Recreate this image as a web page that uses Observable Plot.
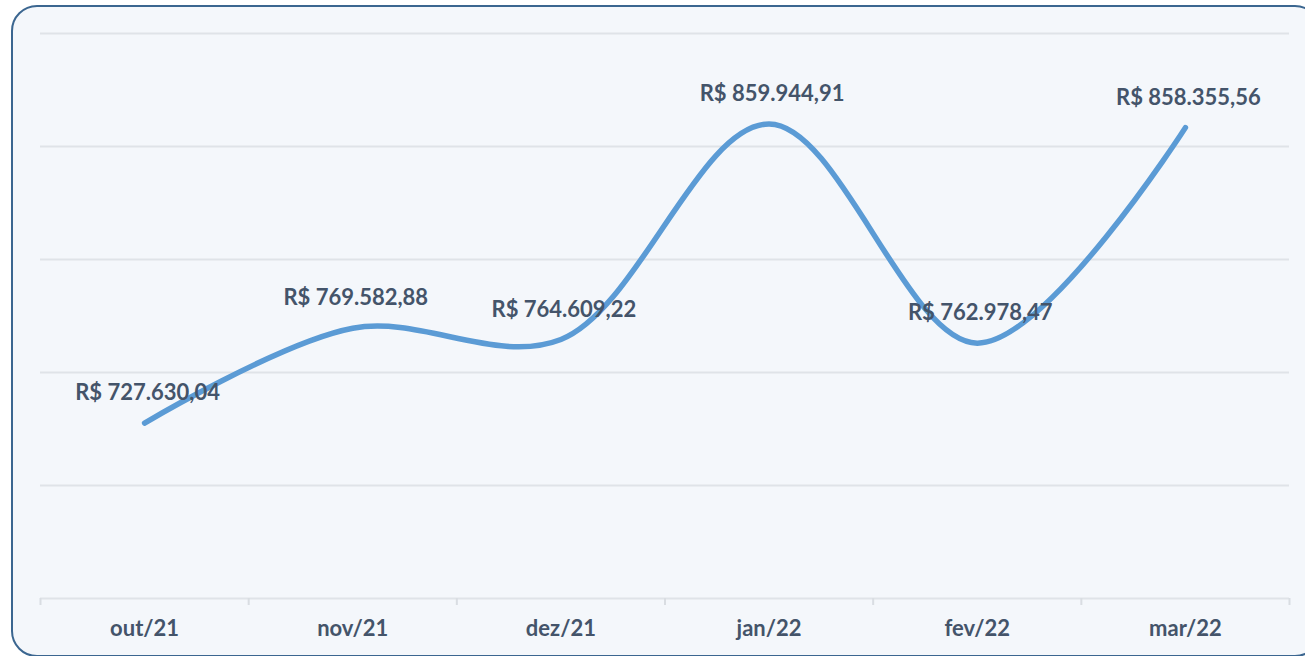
<!DOCTYPE html>
<html>
<head>
<meta charset="utf-8">
<script src="https://cdn.jsdelivr.net/npm/d3@7"></script>
<script src="https://cdn.jsdelivr.net/npm/@observablehq/plot@0.6"></script>
<style>
  html, body { margin: 0; padding: 0; background: #ffffff; width: 1305px; height: 656px; overflow: hidden; }
  #box { position: absolute; left: 11px; top: 5px; width: 1310px; height: 652px; border: 2px solid #3b6690; border-radius: 26px; background: #f4f7fb; box-sizing: border-box; }
  #chart { position: absolute; left: 0; top: 0; }
</style>
</head>
<body>
<div id="box"></div>
<div id="chart"></div>
<script>
const months = ["out/21", "nov/21", "dez/21", "jan/22", "fev/22", "mar/22"];
const values = [727630.04, 769582.88, 764609.22, 859944.91, 762978.47, 858355.56];
const gridTicks = [650000, 700000, 750000, 800000, 850000, 900000];
const bandEdges = [-0.5, 0.5, 1.5, 2.5, 3.5, 4.5, 5.5];

const fmt = v => "R$ " + v.toLocaleString("pt-BR", {minimumFractionDigits: 2, maximumFractionDigits: 2});
const data = months.map((m, i) => ({i, m, v: values[i], label: fmt(values[i])}));

const chart = Plot.plot({
  width: 1305,
  height: 656,
  marginLeft: 40,
  marginRight: 16,
  marginTop: 33,
  marginBottom: 58,
  style: {background: "transparent", fontFamily: "Lato, 'Open Sans', sans-serif"},
  x: {type: "linear", domain: [-0.5, 5.5]},
  y: {domain: [650000, 900000]},
  marks: [
    Plot.ruleY(gridTicks, {stroke: "#dfe3e8", strokeWidth: 2}),
    Plot.axisX(bandEdges, {tickSize: 7, tickFormat: () => "", stroke: "#d9dde2", strokeWidth: 2, label: null}),
    Plot.axisX(d3.range(months.length), {tickSize: 0, tickPadding: 22, tickFormat: i => months[i], fontSize: 22, fontWeight: "bold", fill: "#44546a", label: null}),
    Plot.axisY({ticks: [], label: null}),
    Plot.line(data, {x: "i", y: "v", curve: "catmull-rom", stroke: "#5b9bd5", strokeWidth: 5.5, strokeLinecap: "round", strokeLinejoin: "round"}),
    Plot.text(data, {x: "i", y: "v", text: "label", dy: -30, dx: 3, fontSize: 22, fontWeight: "bold", fill: "#44546a"})
  ]
});
document.getElementById("chart").appendChild(chart);
</script>
</body>
</html>
